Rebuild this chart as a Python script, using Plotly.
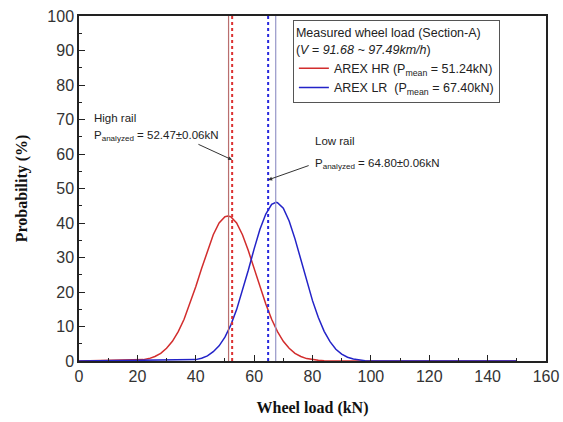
import plotly.graph_objects as go

# Wheel load (kN) sample points
hr_x = [0, 20, 22, 24, 26, 28, 30, 32, 34, 36, 38, 40, 42, 44, 46, 48, 50, 51, 52, 54, 56, 58,
        60, 62, 64, 66, 68, 70, 72, 74, 76, 78, 80, 82, 84, 150]
hr_y = [0, 0.2, 0.4, 0.7, 1.3, 2.2, 3.7, 5.7, 8.5, 12.1, 16.5, 21.5, 26.8, 32.0, 36.6, 40.0, 41.8, 42.0,
        41.8, 40.0, 36.6, 32.0, 26.8, 21.5, 16.5, 12.1, 8.5, 5.7, 3.7, 2.2, 1.3, 0.7, 0.4, 0.2, 0.1, 0]

lr_x = [0, 38, 40, 42, 44, 46, 48, 50, 52, 54, 56, 58, 60, 62, 64, 66, 67.5, 68, 70, 72, 74, 76,
        78, 80, 82, 84, 86, 88, 90, 92, 94, 96, 98, 150]
lr_y = [0, 0.2, 0.4, 0.8, 1.5, 2.7, 4.4, 6.9, 10.4, 14.9, 20.3, 26.3, 32.5, 38.2, 42.6, 45.4, 46.0,
        45.9, 44.3, 40.6, 35.4, 29.5, 23.3, 17.5, 12.6, 8.6, 5.6, 3.4, 2.0, 1.1, 0.6, 0.3, 0.1, 0]

hr_mean = 51.24
lr_mean = 67.40
hr_analyzed = 52.47
lr_analyzed = 64.80

x_ticks = [0, 20, 40, 60, 80, 100, 120, 140, 160]
y_ticks = [0, 10, 20, 30, 40, 50, 60, 70, 80, 90, 100]

RED = "rgb(210,45,45)"
BLUE = "rgb(35,35,200)"

fig = go.Figure()
fig.add_trace(go.Scatter(x=hr_x, y=hr_y, mode="lines", line=dict(color=RED, width=1.5),
                         name="AREX HR (P<sub>mean</sub> = 51.24kN)"))
fig.add_trace(go.Scatter(x=lr_x, y=lr_y, mode="lines", line=dict(color=BLUE, width=1.5),
                         name="AREX LR  (P<sub>mean</sub> = 67.40kN)"))

# vertical reference lines
fig.add_vline(x=hr_mean, line=dict(color="rgb(185,110,110)", width=1.2))
fig.add_vline(x=hr_analyzed, line=dict(color="rgb(220,50,50)", width=2, dash="dot"))
fig.add_vline(x=lr_analyzed, line=dict(color="rgb(40,40,220)", width=2, dash="dot"))
fig.add_vline(x=lr_mean, line=dict(color="rgb(150,150,200)", width=1.2))

ann_font = dict(family="Liberation Sans, Arial", size=11.5, color="#222")
# High rail
fig.add_annotation(x=4.5, y=70.4, text="High rail", showarrow=False, xanchor="left", yanchor="middle", font=ann_font)
fig.add_annotation(x=4.5, y=65.3, text="P<sub>analyzed</sub> = 52.47\u00b10.06kN", showarrow=False,
                   xanchor="left", yanchor="middle", font=ann_font)
fig.add_annotation(x=hr_analyzed, y=58.3, ax=40.4, ay=63.0, axref="x", ayref="y", xref="x", yref="y",
                   text="", showarrow=True, arrowhead=2, arrowsize=0.8, arrowwidth=1, arrowcolor="#333")
# Low rail
fig.add_annotation(x=80.0, y=63.8, text="Low rail", showarrow=False, xanchor="left", yanchor="middle", font=ann_font)
fig.add_annotation(x=80.0, y=57.0, text="P<sub>analyzed</sub> = 64.80\u00b10.06kN", showarrow=False,
                   xanchor="left", yanchor="middle", font=ann_font)
fig.add_annotation(x=lr_analyzed, y=52.5, ax=79.2, ay=56.8, axref="x", ayref="y", xref="x", yref="y",
                   text="", showarrow=True, arrowhead=2, arrowsize=0.8, arrowwidth=1, arrowcolor="#333")

axis_common = dict(showline=True, linecolor="#222", linewidth=1.5, mirror=True, ticks="inside",
                   ticklen=6, tickwidth=1.2, tickcolor="#222", showgrid=False, zeroline=False,
                   automargin=False,
                   tickfont=dict(family="Liberation Sans, Arial", size=16, color="#333"))

fig.update_xaxes(range=[0, 160], tickvals=x_ticks, **axis_common,
                 minor=dict(ticks="inside", ticklen=3, tickwidth=1, tickcolor="#222", dtick=10, showgrid=False),
                 title=dict(text="<b>Wheel load (kN)</b>", standoff=18,
                            font=dict(family="Liberation Serif, Times New Roman", size=16, color="#111")))
fig.update_yaxes(range=[0, 100], tickvals=y_ticks, **axis_common,
                 minor=dict(ticks="inside", ticklen=3, tickwidth=1, tickcolor="#222", dtick=5, showgrid=False),
                 title=dict(text="<b>Probability (%)</b>", standoff=16,
                            font=dict(family="Liberation Serif, Times New Roman", size=16, color="#111")))

fig.update_layout(
    width=563, height=422,
    margin=dict(l=79, r=17, t=16, b=61),
    plot_bgcolor="white", paper_bgcolor="white",
    showlegend=True,
    legend=dict(x=0.458, y=0.988, xanchor="left", yanchor="top",
                bordercolor="#555", borderwidth=1, bgcolor="white",
                font=dict(family="Liberation Sans, Arial", size=12.5, color="#222"),
                title=dict(text="Measured wheel load (Section-A)<br>(<i>V = 91.68 ~ 97.49km/h</i>)",
                           side="top", font=dict(family="Liberation Sans, Arial", size=12.5, color="#222")),
                itemwidth=30, tracegroupgap=0, entrywidth=0),
)

fig.write_html("out.html")
